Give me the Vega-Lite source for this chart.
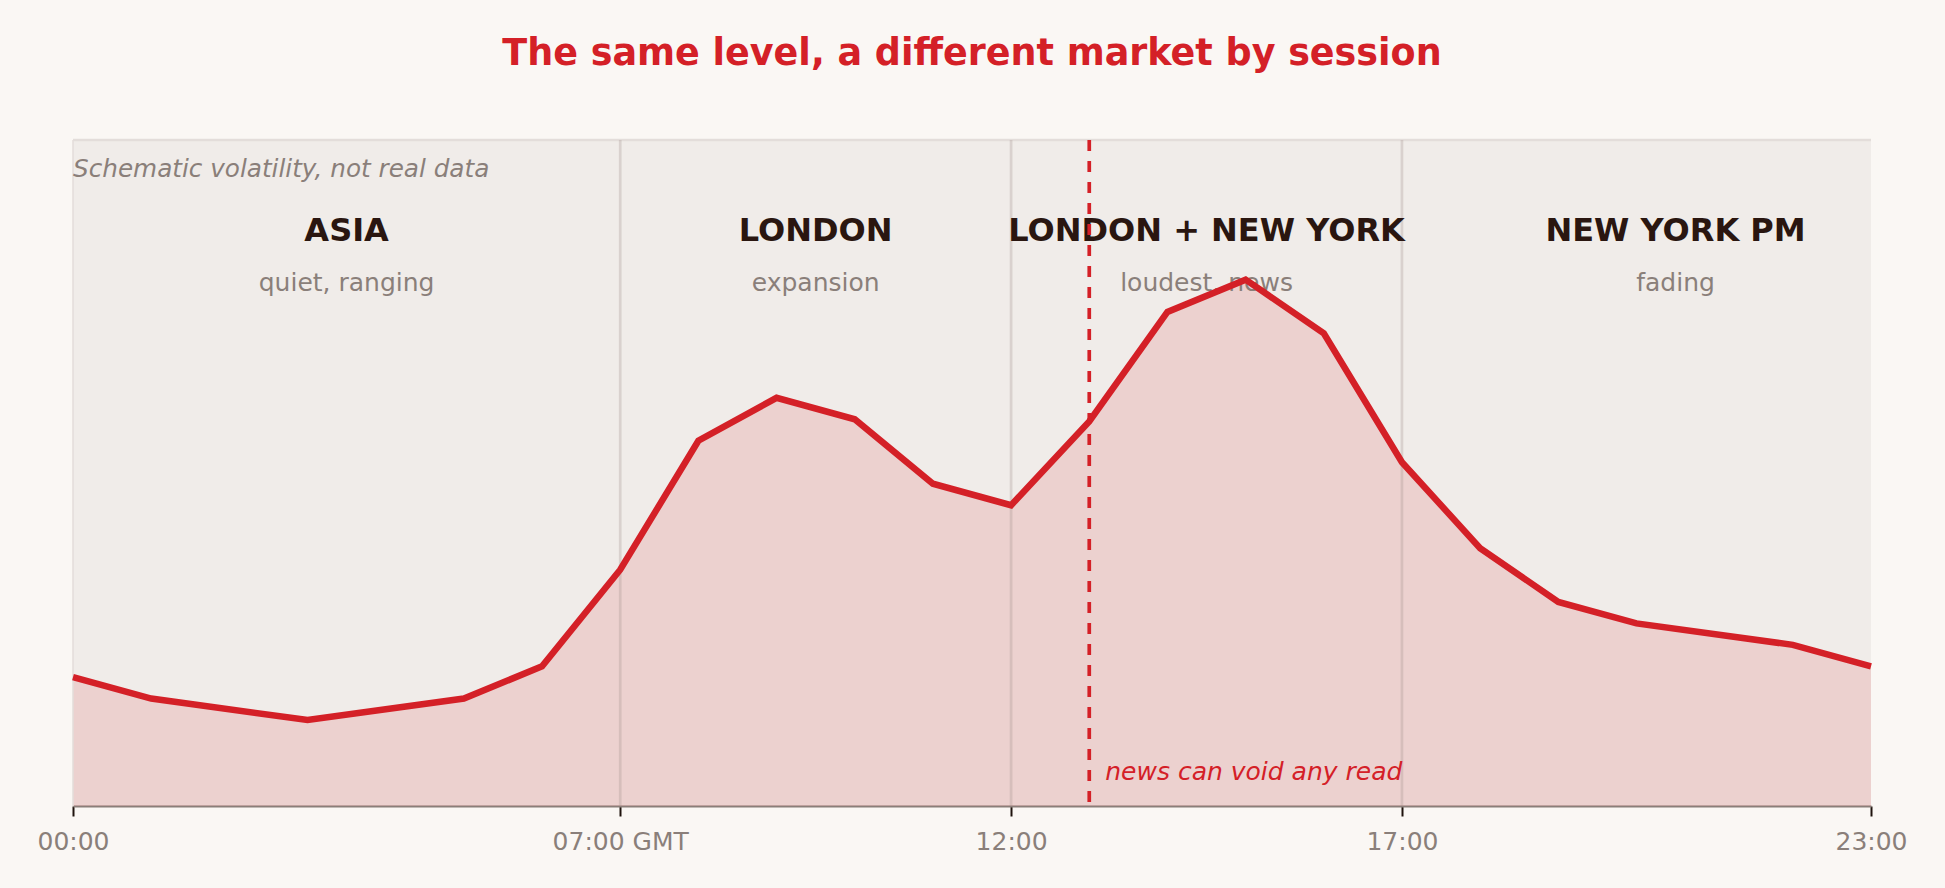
{
  "$schema": "https://vega.github.io/schema/vega-lite/v6.json",
  "width": 1798,
  "height": 666,
  "autosize": {"type": "none"},
  "padding": {"left": 73, "top": 140, "right": 74, "bottom": 82},
  "background": "#FAF7F4",
  "title": {
    "text": "The same level, a different market by session",
    "color": "#D42027",
    "font": "DejaVu Sans",
    "fontSize": 36.5,
    "fontWeight": "bold",
    "anchor": "middle",
    "baseline": "alphabetic",
    "offset": 37
  },
  "config": {
    "view": {"fill": "#F0ECE9", "stroke": null},
    "text": {"font": "DejaVu Sans"}
  },
  "datasets": {
    "vol": [
      {"hour": 0, "vol": 0.6},
      {"hour": 1, "vol": 0.5},
      {"hour": 3, "vol": 0.4},
      {"hour": 5, "vol": 0.5},
      {"hour": 6, "vol": 0.65},
      {"hour": 7, "vol": 1.1},
      {"hour": 8, "vol": 1.7},
      {"hour": 9, "vol": 1.9},
      {"hour": 10, "vol": 1.8},
      {"hour": 11, "vol": 1.5},
      {"hour": 12, "vol": 1.4},
      {"hour": 13, "vol": 1.79},
      {"hour": 14, "vol": 2.3},
      {"hour": 15, "vol": 2.45},
      {"hour": 16, "vol": 2.2},
      {"hour": 17, "vol": 1.6},
      {"hour": 18, "vol": 1.2},
      {"hour": 19, "vol": 0.95},
      {"hour": 20, "vol": 0.85},
      {"hour": 22, "vol": 0.75},
      {"hour": 23, "vol": 0.65}
    ],
    "sessions": [
      {"session": "ASIA", "note": "quiet, ranging", "start": 0, "end": 7},
      {"session": "LONDON", "note": "expansion", "start": 7, "end": 12},
      {"session": "LONDON + NEW YORK", "note": "loudest, news", "start": 12, "end": 17},
      {"session": "NEW YORK PM", "note": "fading", "start": 17, "end": 24}
    ]
  },
  "layer": [
    {
      "data": {"name": "vol"},
      "mark": {"type": "area", "color": "#D42027", "opacity": 0.13},
      "encoding": {
        "x": {
          "field": "hour",
          "type": "quantitative",
          "title": null,
          "scale": {"domain": [0, 23], "nice": false, "zero": false},
          "axis": {
            "values": [0, 7, 12, 17, 23],
            "labelExpr": "datum.value == 0 ? '00:00' : datum.value == 7 ? '07:00 GMT' : datum.value == 12 ? '12:00' : datum.value == 17 ? '17:00' : '23:00'",
            "grid": false,
            "domainColor": "#8A7E79",
            "domainWidth": 2,
            "tickColor": "#1E120D",
            "tickWidth": 2,
            "tickSize": 10,
            "labelColor": "#8A7F7A",
            "labelFont": "DejaVu Sans",
            "labelFontSize": 25,
            "labelPadding": 13,
            "labelFlush": false,
            "labelOverlap": false
          }
        },
        "y": {
          "field": "vol",
          "type": "quantitative",
          "title": null,
          "axis": null,
          "scale": {"domain": [0, 3.1], "nice": false, "zero": true}
        }
      }
    },
    {
      "data": {"values": [{"edge": "top"}]},
      "mark": {"type": "rule", "color": "#E3DDDA", "strokeWidth": 2.5},
      "encoding": {
        "y": {"datum": 3.1, "type": "quantitative", "axis": null, "title": null}
      }
    },
    {
      "data": {"values": [{"edge": "left"}]},
      "mark": {"type": "rule", "color": "#E3DDDA", "strokeWidth": 1.5},
      "encoding": {
        "x": {"datum": 0, "type": "quantitative", "title": null}
      }
    },
    {
      "data": {"name": "sessions"},
      "transform": [{"filter": "datum.start > 0"}],
      "mark": {"type": "rule", "color": "#9E8C88", "opacity": 0.28, "strokeWidth": 2.7},
      "encoding": {
        "x": {"field": "start", "type": "quantitative", "title": null}
      }
    },
    {
      "data": {"name": "sessions"},
      "transform": [{"calculate": "(datum.start + datum.end) / 2", "as": "mid"}],
      "mark": {"type": "text", "fontSize": 32, "fontWeight": "bold", "color": "#2A1610", "align": "center", "baseline": "middle"},
      "encoding": {
        "x": {"field": "mid", "type": "quantitative", "title": null},
        "y": {"datum": 2.677, "type": "quantitative", "axis": null, "title": null},
        "text": {"field": "session"}
      }
    },
    {
      "data": {"name": "sessions"},
      "transform": [{"calculate": "(datum.start + datum.end) / 2", "as": "mid"}],
      "mark": {"type": "text", "fontSize": 25, "color": "#8A7F7A", "align": "center", "baseline": "middle"},
      "encoding": {
        "x": {"field": "mid", "type": "quantitative", "title": null},
        "y": {"datum": 2.435, "type": "quantitative", "axis": null, "title": null},
        "text": {"field": "note"}
      }
    },
    {
      "data": {"values": [{"label": "Schematic volatility, not real data"}]},
      "mark": {"type": "text", "fontSize": 24.7, "fontStyle": "italic", "color": "#8A7F7A", "align": "left", "baseline": "middle"},
      "encoding": {
        "x": {"datum": 0, "type": "quantitative", "title": null},
        "y": {"datum": 2.96, "type": "quantitative", "axis": null, "title": null},
        "text": {"field": "label"}
      }
    },
    {
      "data": {"name": "vol"},
      "mark": {"type": "line", "color": "#D42027", "strokeWidth": 6.5, "strokeJoin": "miter"},
      "encoding": {
        "x": {"field": "hour", "type": "quantitative", "title": null},
        "y": {"field": "vol", "type": "quantitative", "axis": null, "title": null}
      }
    },
    {
      "data": {"values": [{"label": "news can void any read"}]},
      "mark": {"type": "rule", "color": "#D42027", "strokeWidth": 3.7, "strokeDash": [11, 10]},
      "encoding": {
        "x": {"datum": 13, "type": "quantitative", "title": null}
      }
    },
    {
      "data": {"values": [{"label": "news can void any read"}]},
      "mark": {"type": "text", "fontSize": 25, "fontStyle": "italic", "color": "#D42027", "align": "left", "baseline": "middle", "dx": 16},
      "encoding": {
        "x": {"datum": 13, "type": "quantitative", "title": null},
        "y": {"datum": 0.16, "type": "quantitative", "axis": null, "title": null},
        "text": {"field": "label"}
      }
    }
  ]
}
